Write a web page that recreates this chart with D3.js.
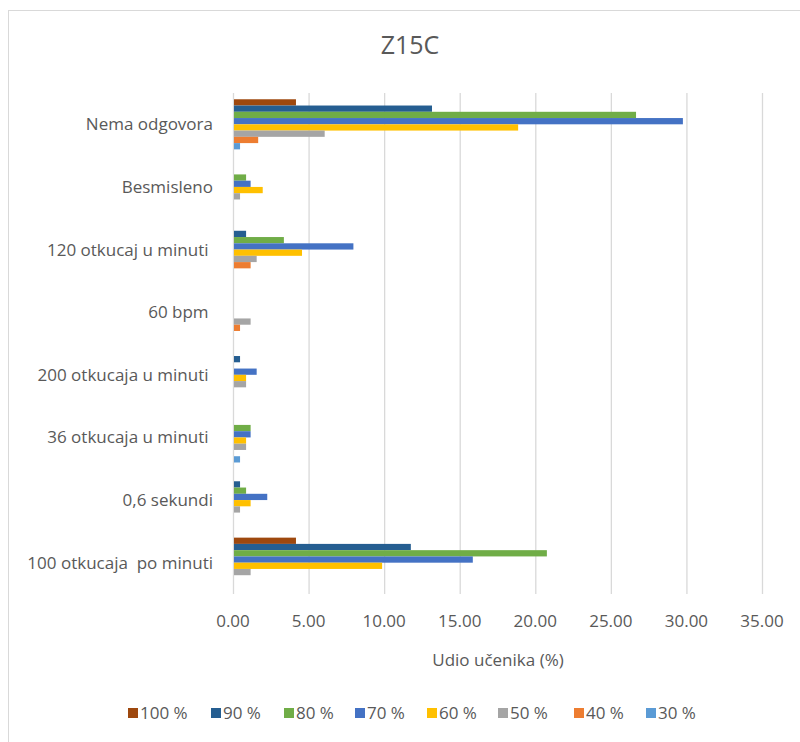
<!DOCTYPE html>
<html>
<head>
<meta charset="utf-8">
<script src="https://cdn.jsdelivr.net/npm/d3@7"></script>
<style>
  body { margin: 0; background: #fff; }
  svg text { font-family: "Open Sans", sans-serif; fill: #595959; white-space: pre; }
</style>
</head>
<body>
<div id="chart"></div>
<script>
// categories, top to bottom
var categories = ["Nema odgovora", "Besmisleno", "120 otkucaj u minuti ", "60 bpm ",
    "200 otkucaja u minuti ", "36 otkucaja u minuti ", "0,6 sekundi", "100 otkucaja  po minuti"];

var seriesNames = ["100 %", "90 %", "80 %", "70 %", "60 %", "50 %", "40 %", "30 %"];
var seriesColors = ["#9E480E", "#255E91", "#70AD47", "#4472C4", "#FFC000", "#A5A5A5", "#ED7D31", "#5B9BD5"];

// values per series, in category order
var v100 = [4.1, 0, 0, 0, 0, 0, 0, 4.1];
var v90  = [13.1, 0, 0.8, 0, 0.4, 0, 0.4, 11.7];
var v80  = [26.6, 0.8, 3.3, 0, 0, 1.1, 0.8, 20.7];
var v70  = [29.7, 1.1, 7.9, 0, 1.5, 1.1, 2.2, 15.8];
var v60  = [18.8, 1.9, 4.5, 0, 0.8, 0.8, 1.1, 9.8];
var v50  = [6.0, 0.4, 1.5, 1.1, 0.8, 0.8, 0.4, 1.1];
var v40  = [1.6, 0, 1.1, 0.4, 0, 0, 0, 0];
var v30  = [0.4, 0, 0, 0, 0, 0.4, 0, 0];

var xTicks = [0, 5, 10, 15, 20, 25, 30, 35];

var allValues = [v100, v90, v80, v70, v60, v50, v40, v30];

var W = 800, H = 742;
var margin = {top: 93, left: 233, right: 38, bottom: 148};

var svg = d3.select("#chart").append("svg")
    .attr("width", W)
    .attr("height", H);

// chart frame
svg.append("rect")
    .attr("x", 8.5).attr("y", 10.5)
    .attr("width", W).attr("height", H)
    .attr("fill", "none")
    .attr("stroke", "#d9d9d9");

var x = d3.scaleLinear().domain([0, 35]).range([margin.left, W - margin.right]);
var y = d3.scaleBand().domain(categories).range([margin.top, H - margin.bottom]).paddingInner(0.2).paddingOuter(0.1);
var yInner = d3.scaleBand().domain(seriesNames).range([0, y.bandwidth()]);

// gridlines
svg.append("g")
    .attr("class", "grid")
    .selectAll("line")
    .data(xTicks).enter()
    .append("line")
    .attr("x1", function(d){ return x(d) + 0.5; })
    .attr("x2", function(d){ return x(d) + 0.5; })
    .attr("y1", margin.top)
    .attr("y2", H - margin.bottom)
    .attr("stroke", "#d9d9d9")
    .attr("stroke-width", 1.3);

// tick labels
svg.append("g")
    .selectAll("text")
    .data(xTicks).enter()
    .append("text")
    .attr("x", function(d){ return x(d); })
    .attr("y", 627)
    .attr("text-anchor", "middle")
    .style("font-size", "17px")
    .text(function(d){ return d3.format(".2f")(d); });

// bars
var rows = [];
categories.forEach(function(c, i){
    seriesNames.forEach(function(s, j){
        rows.push({cat: c, series: s, color: seriesColors[j], value: allValues[j][i]});
    });
});

svg.append("g")
    .attr("class", "bars")
    .selectAll("rect")
    .data(rows.filter(function(d){ return d.value > 0; })).enter()
    .append("rect")
    .attr("x", x(0) + 1)
    .attr("y", function(d){ return y(d.cat) + yInner(d.series); })
    .attr("width", function(d){ return x(d.value) - x(0); })
    .attr("height", yInner.bandwidth())
    .attr("fill", function(d){ return d.color; });

// category labels
svg.append("g")
    .selectAll("text")
    .data(categories).enter()
    .append("text")
    .attr("x", 213)
    .attr("y", function(d){ return y(d) + y.bandwidth() / 2; })
    .attr("dy", "0.35em")
    .attr("text-anchor", "end")
    .style("font-size", "17px")
    .text(function(d){ return d; });

// title
svg.append("text")
    .attr("x", 410)
    .attr("y", 54)
    .attr("text-anchor", "middle")
    .style("font-size", "25px")
    .text("Z15C");

// axis title
svg.append("text")
    .attr("x", 498)
    .attr("y", 666)
    .attr("text-anchor", "middle")
    .style("font-size", "17px")
    .text("Udio učenika (%)");

// legend
var legendX = [128, 211, 284, 355, 427, 498, 574, 646];
var legend = svg.append("g")
    .selectAll("g")
    .data(seriesNames).enter()
    .append("g")
    .attr("transform", function(d, i){ return "translate(" + legendX[i] + ",713)"; });

legend.append("rect")
    .attr("x", 0).attr("y", -5)
    .attr("width", 10).attr("height", 10)
    .attr("fill", function(d, i){ return seriesColors[i]; });

legend.append("text")
    .attr("x", 12)
    .attr("y", 0)
    .attr("dy", "0.35em")
    .style("font-size", "17px")
    .text(function(d){ return d; });
</script>
</body>
</html>
